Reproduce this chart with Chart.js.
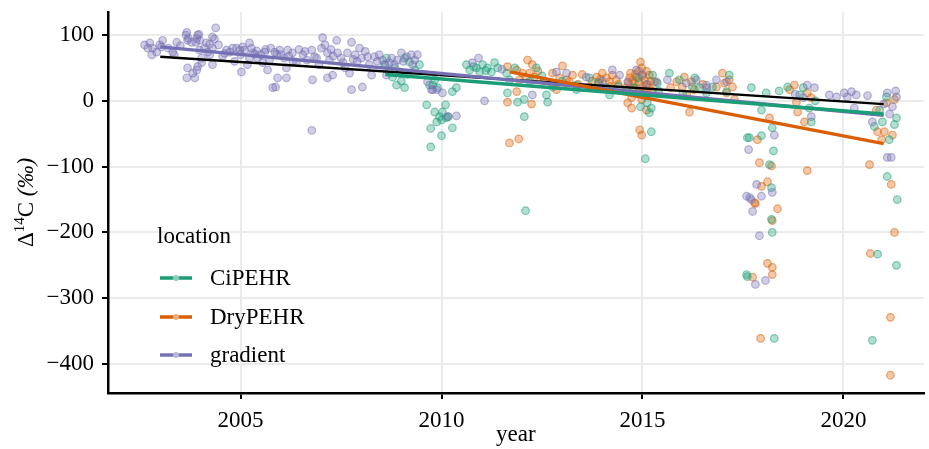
<!DOCTYPE html>
<html>
<head>
<meta charset="utf-8">
<script src="https://cdn.jsdelivr.net/npm/chart.js@4"></script>
<style>
  html, body { margin: 0; padding: 0; background: #fff; }
  #wrap { width: 929px; height: 449px; }
</style>
</head>
<body>
<div id="wrap"><canvas id="d14c-chart"></canvas></div>
<script>
// tick labels
const xTicks = [2005, 2010, 2015, 2020];
const yTicks = [100, 0, -100, -200, -300, -400];

// [year, Δ14C ‰]
const gradientPoints = [
    [2002.61, 85], [2002.74, 88], [2002.81, 80], [2002.79, 70], [2002.69, 80], [2002.91, 74],
    [2003.06, 92], [2002.99, 85], [2003.03, 82], [2003.31, 74], [2003.35, 70], [2003.41, 89],
    [2003.66, 104], [2003.64, 100], [2003.70, 95], [2003.68, 92], [2003.78, 89], [2003.96, 101],
    [2003.93, 100], [2003.91, 95], [2003.89, 89], [2003.98, 92], [2004.30, 97], [2004.35, 94],
    [2004.38, 111], [2004.15, 88], [2004.23, 86], [2004.30, 80], [2004.18, 74], [2003.98, 77],
    [2004.03, 65], [2003.68, 50], [2003.66, 35], [2003.86, 35], [2003.93, 52], [2003.81, 42],
    [2004.03, 58], [2004.30, 55], [2004.23, 70], [2003.91, 47], [2004.65, 77], [2004.73, 74],
    [2004.80, 80], [2004.90, 80], [2004.98, 77], [2005.02, 44], [2005.05, 82], [2005.10, 77],
    [2005.22, 88], [2005.27, 80], [2005.30, 73], [2005.35, 71], [2005.17, 55], [2005.22, 65],
    [2005.42, 65], [2005.60, 74], [2005.62, 78], [2005.67, 47], [2005.72, 62], [2005.85, 74],
    [2005.90, 71], [2005.92, 35], [2006.14, 35], [2006.17, 77], [2006.29, 73], [2005.80, 20],
    [2005.87, 21], [2006.39, 59], [2006.09, 65], [2006.14, 50], [2005.97, 77], [2006.77, 77],
    [2006.84, 67], [2006.79, 32], [2006.77, -45], [2006.89, 65], [2007.04, 96], [2007.01, 80],
    [2007.16, 73], [2007.21, 62], [2007.16, 35], [2007.29, 39], [2007.39, 92], [2007.41, 73],
    [2007.66, 73], [2007.71, 42], [2007.76, 89], [2007.76, 17], [2007.96, 80], [2008.01, 65],
    [2008.03, 21], [2008.16, 67], [2008.26, 39], [2008.33, 67], [2008.53, 62], [2008.63, 39],
    [2008.76, 65], [2008.83, 55], [2009.00, 73], [2009.13, 67], [2009.25, 70], [2009.33, 62],
    [2009.28, 55], [2009.65, 29], [2009.75, 17], [2009.88, 17],
    [2004.55, 68], [2004.85, 60], [2005.50, 70], [2005.75, 80], [2006.00, 70], [2006.45, 78],
    [2006.55, 70], [2006.65, 62], [2006.95, 55], [2007.10, 85], [2007.25, 78], [2007.50, 65],
    [2007.55, 58], [2007.85, 70], [2007.90, 60], [2008.10, 75], [2008.45, 70], [2008.60, 55],
    [2008.90, 62], [2009.05, 60], [2009.40, 70], [2007.60, 50], [2008.20, 55], [2005.55, 58],
    [2006.30, 60], [2004.45, 85], [2003.20, 80], [2003.50, 84], [2004.10, 80], [2004.60, 72],
    [2005.00, 70], [2005.40, 76], [2006.20, 68], [2006.60, 75], [2007.30, 68], [2007.80, 63],
    [2008.40, 60], [2008.70, 58],
    [2009.78, 17], [2010.02, 12], [2010.37, -23], [2010.15, -24], [2011.07, 0], [2010.92, 65],
    [2010.77, 58], [2012.26, 9], [2012.86, 44], [2013.11, 42], [2014.25, 47], [2014.43, 39],
    [2014.85, 47], [2014.63, 29], [2015.35, 29], [2015.62, 32], [2016.09, 27], [2016.34, 32],
    [2016.59, 24], [2016.84, 32], [2017.09, 29], [2018.28, -52], [2017.64, -74], [2017.84, -127],
    [2017.59, -145], [2017.71, -150], [2017.67, -147], [2017.96, -145], [2018.23, -139],
    [2017.74, -168], [2017.91, -205], [2017.81, -279], [2018.06, -273], [2019.10, 24],
    [2019.28, 20], [2019.20, -24], [2019.65, 9], [2019.83, 6], [2020.02, 12], [2020.20, 14],
    [2020.32, 9], [2020.10, 6], [2020.27, -11], [2020.72, -32], [2021.09, 12], [2021.32, 6],
    [2021.22, -9], [2021.09, -86], [2021.19, -86],
    [2011.50, 48], [2013.60, 36], [2014.00, 30], [2015.00, 40], [2015.10, 25], [2016.60, 20],
    [2018.80, 10], [2019.00, 5], [2020.60, 8], [2021.00, -5], [2021.30, 15], [2021.15, -20]
];

const ciPEHRPoints = [
    [2008.63, 65], [2008.78, 36], [2008.88, 24], [2009.08, 20], [2008.96, 44], [2008.58, 55],
    [2009.20, 59], [2008.83, 50], [2009.33, 47], [2009.08, 65], [2009.45, 55], [2009.15, 40],
    [2008.70, 45], [2009.00, 30],
    [2009.63, -6], [2009.83, -17], [2009.73, -42], [2009.88, -32], [2009.78, 24], [2009.90, 20],
    [2009.73, -70], [2010.00, -53], [2009.95, -24], [2010.02, -17], [2010.10, -6], [2010.00, -29],
    [2010.12, -26], [2010.17, -24], [2010.27, -41], [2010.27, 14], [2010.37, 20], [2009.83, 32],
    [2009.70, 24],
    [2010.62, 55], [2010.70, 47], [2010.87, 50], [2011.02, 55], [2011.14, 50], [2011.32, 58],
    [2011.24, 44], [2010.95, 44], [2010.80, 52], [2011.10, 46], [2011.40, 50],
    [2011.62, 42], [2011.82, 50], [2011.64, 12], [2011.89, -2], [2012.06, 2], [2012.06, -24],
    [2012.36, 50], [2011.69, 32], [2012.09, -167], [2012.61, 9], [2012.64, -2], [2012.76, 21],
    [2013.36, 17], [2012.20, 30], [2012.50, 38],
    [2013.68, 35], [2013.36, 24], [2014.10, 20], [2014.18, 9], [2013.00, 30], [2013.90, 28],
    [2014.40, 22], [2014.60, 15],
    [2015.25, 39], [2015.37, 27], [2015.12, -3], [2015.22, -11], [2014.95, -9], [2015.17, -18],
    [2015.22, -47], [2015.07, -88], [2014.80, 20], [2015.00, 10], [2014.90, 35], [2015.40, 15],
    [2015.67, 42], [2015.92, 32], [2016.24, 21], [2016.42, 20], [2016.59, 12], [2016.74, 21],
    [2017.09, 14], [2016.00, 10], [2016.30, 35],
    [2017.16, 39], [2017.71, 20], [2018.08, 12], [2017.96, -14], [2017.61, -56], [2017.66, -56],
    [2017.96, -53], [2018.23, -41], [2018.26, -76], [2018.16, -97], [2018.21, -132], [2018.21, -180],
    [2018.23, -200], [2017.59, -264], [2017.61, -267], [2018.28, -361], [2018.61, 21], [2018.91, 9],
    [2019.15, -11], [2019.20, -32], [2020.77, -39], [2020.97, -32], [2021.32, -26], [2021.27, -36],
    [2021.14, -59], [2021.09, -115], [2021.34, -150], [2021.07, 6], [2020.90, -14], [2020.85, -233],
    [2021.32, -250], [2020.72, -364], [2018.40, 15], [2019.00, 20], [2019.30, 0]
];

const dryPEHRPoints = [
    [2012.14, 62], [2012.26, 55], [2011.64, 52], [2012.01, 42], [2011.87, 47], [2012.19, 42],
    [2012.31, 36], [2011.94, 32], [2011.87, 14], [2011.64, -2], [2012.24, -5], [2011.69, -64],
    [2011.92, -58], [2013.01, 53], [2012.76, 42], [2012.94, 35], [2012.74, 27], [2012.86, 17],
    [2013.11, 32], [2013.26, 39], [2012.40, 45], [2012.55, 30],
    [2013.86, 36], [2014.00, 42], [2014.25, 39], [2014.35, 32], [2014.18, 29], [2013.93, 27],
    [2013.68, 21], [2013.18, 29], [2013.50, 40], [2013.75, 30], [2014.10, 35], [2014.40, 25],
    [2013.40, 25],
    [2014.95, 59], [2014.98, 50], [2014.68, 35], [2014.85, 36], [2015.05, 32], [2015.17, 39],
    [2015.30, 29], [2014.80, 27], [2015.00, 21], [2015.17, 20], [2014.73, 5], [2014.98, 2],
    [2014.63, -3], [2014.73, -11], [2015.10, -14], [2014.93, -44], [2014.98, -52], [2014.70, 42],
    [2014.90, 45], [2015.10, 45], [2015.25, 15], [2014.60, 20], [2014.88, 12], [2015.05, 8],
    [2015.20, 30], [2014.75, 30], [2015.00, 38], [2014.82, 40], [2014.92, 28], [2015.12, 25],
    [2014.65, 28], [2015.02, 16], [2014.78, 18], [2013.95, 33], [2014.20, 22], [2012.10, 35],
    [2015.85, 29], [2016.04, 36], [2015.99, 21], [2016.22, 29], [2016.29, 17], [2016.17, -17],
    [2016.99, 42], [2017.04, 27], [2016.84, 21], [2016.50, 25], [2016.10, 10], [2015.70, 20],
    [2017.16, 32], [2017.24, 21], [2017.09, 12], [2017.29, 2], [2018.16, -26], [2017.86, -59],
    [2017.91, -94], [2018.21, -99], [2017.96, -130], [2018.11, -123], [2017.79, -155],
    [2018.36, -164], [2017.81, -156], [2018.23, -182], [2018.11, -247], [2018.23, -253],
    [2018.23, -264], [2017.74, -268], [2017.94, -361], [2018.66, 17], [2018.83, -2], [2018.86, -17],
    [2019.03, -32], [2019.10, 12], [2019.10, -106], [2020.65, -97], [2020.82, -14], [2021.07, -3],
    [2021.27, 2], [2020.85, -47], [2021.02, -47], [2021.22, -52], [2020.95, -59], [2021.19, -127],
    [2021.27, -200], [2020.67, -232], [2021.17, -329], [2021.17, -417], [2018.78, 24], [2019.20, 5]
];

// fitted trend lines, [start, end]
const gradientFit = [[2003.0, 82], [2021.0, -22]];
const ciPEHRFit = [[2008.6, 40], [2021.0, -20]];
const dryPEHRFit = [[2011.7, 44], [2021.0, -65]];
const allFit = [[2003.0, 67], [2021.0, -5]];

const serif = '"Liberation Serif", "Times New Roman", serif';

const colours = {
    CiPEHR: [27, 158, 119],
    DryPEHR: [217, 95, 2],
    gradient: [117, 112, 179]
};
const rgba = (c, a) => `rgba(${c[0]}, ${c[1]}, ${c[2]}, ${a})`;
const toXY = pts => pts.map(p => ({ x: p[0], y: p[1] }));

function pointSet(label, pts) {
    const c = colours[label];
    return {
        label: label,
        data: toXY(pts),
        backgroundColor: rgba(c, 0.34),
        borderColor: rgba(c, 0.5),
        borderWidth: 1.2,
        pointRadius: 3.8,
        order: 2
    };
}

function fitSet(label, pts, colour, width) {
    return {
        label: label,
        data: toXY(pts),
        showLine: true,
        borderColor: colour,
        borderWidth: width,
        pointRadius: 0,
        fill: false,
        order: 1
    };
}

// legend drawn inside the plot, bottom left, plus the y title with its italic per-mille
const insideLegend = {
    id: 'insideLegend',
    afterDraw(chart) {
        const ctx = chart.ctx;
        ctx.save();
        ctx.font = '23px ' + serif;
        ctx.fillStyle = '#000';
        ctx.textBaseline = 'alphabetic';
        ctx.fillText('location', 157, 243);
        const names = ['CiPEHR', 'DryPEHR', 'gradient'];
        const rows = [278, 317, 355];
        names.forEach((name, i) => {
            const c = colours[name];
            const y = rows[i];
            ctx.strokeStyle = rgba(c, 1);
            ctx.lineWidth = 3.5;
            ctx.beginPath();
            ctx.moveTo(160, y);
            ctx.lineTo(192, y);
            ctx.stroke();
            ctx.fillStyle = rgba([Math.round(c[0] * 0.5 + 127), Math.round(c[1] * 0.5 + 127), Math.round(c[2] * 0.5 + 127)], 1);
            ctx.beginPath();
            ctx.arc(176, y, 3, 0, Math.PI * 2);
            ctx.fill();
            ctx.fillStyle = '#000';
            ctx.fillText(name, 210, y + 7);
        });

        // y title: Δ, raised 14, C, italic (‰)
        const parts = [
            { t: 'Δ', f: '23px ' + serif, dy: 0 },
            { t: '14', f: '15px ' + serif, dy: -9 },
            { t: 'C ', f: '23px ' + serif, dy: 0 },
            { t: '(‰)', f: 'italic 23px ' + serif, dy: 0 }
        ];
        let total = 0;
        parts.forEach(p => { ctx.font = p.f; p.w = ctx.measureText(p.t).width; total += p.w; });
        const midY = (chart.chartArea.top + chart.chartArea.bottom) / 2;
        ctx.translate(33, midY);
        ctx.rotate(-Math.PI / 2);
        let x = -total / 2;
        parts.forEach(p => {
            ctx.font = p.f;
            ctx.fillText(p.t, x, p.dy);
            x += p.w;
        });
        ctx.restore();
    }
};

const chart = new Chart(document.getElementById('d14c-chart'), {
    type: 'scatter',
    data: {
        datasets: [
            pointSet('gradient', gradientPoints),
            pointSet('CiPEHR', ciPEHRPoints),
            pointSet('DryPEHR', dryPEHRPoints),
            fitSet('CiPEHR fit', ciPEHRFit, rgba(colours.CiPEHR, 1), 3.5),
            fitSet('DryPEHR fit', dryPEHRFit, rgba(colours.DryPEHR, 1), 3.5),
            fitSet('gradient fit', gradientFit, rgba(colours.gradient, 1), 3.5),
            fitSet('all fit', allFit, '#000', 2.5)
        ]
    },
    options: {
        responsive: true,
        maintainAspectRatio: false,
        animation: false,
        layout: { padding: { top: 12, right: 0, left: 0, bottom: 0 } },
        plugins: {
            legend: { display: false },
            tooltip: { enabled: false }
        },
        scales: {
            x: {
                type: 'linear',
                min: 2001.7,
                max: 2022.0,
                afterBuildTicks: s => { s.ticks = xTicks.map(v => ({ value: v })); },
                afterFit: s => { s.height = 56; s.paddingLeft = 0; s.paddingRight = 0; },
                grid: { color: '#ebebeb', lineWidth: 2, tickColor: '#000', tickLength: 6, tickWidth: 2 },
                border: { color: '#000', width: 2.5 },
                ticks: {
                    color: '#000',
                    font: { family: serif, size: 23 },
                    padding: 8,
                    maxRotation: 0,
                    callback: v => String(v)
                },
                title: { display: true, text: 'year', color: '#000', font: { family: serif, size: 23 }, padding: 0 }
            },
            y: {
                min: -444,
                max: 135,
                afterBuildTicks: s => { s.ticks = yTicks.map(v => ({ value: v })); },
                afterFit: s => { s.width = 108; s.paddingTop = 0; s.paddingBottom = 0; },
                grid: { color: '#ebebeb', lineWidth: 2, tickColor: '#000', tickLength: 6, tickWidth: 2 },
                border: { color: '#000', width: 2.5 },
                ticks: {
                    color: '#000',
                    font: { family: serif, size: 23 },
                    padding: 8,
                    callback: v => String(v).replace('-', '\u2212')
                },
                title: { display: false }
            }
        }
    },
    plugins: [insideLegend]
});
</script>
</body>
</html>
